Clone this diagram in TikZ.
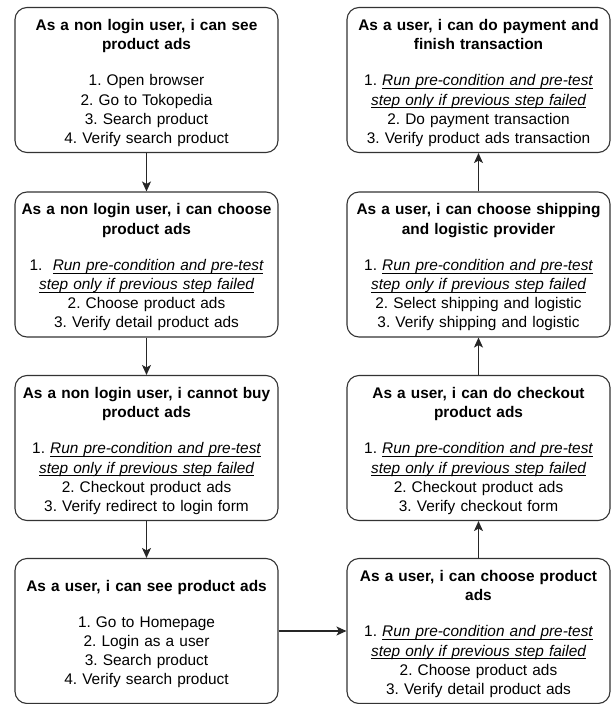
\documentclass[tikz,border=0pt]{standalone}
\usepackage{fontspec}
\setmainfont{Liberation Sans}
\usepackage{tikz}
\usetikzlibrary{arrows.meta}
\tikzset{
  story/.style={rectangle,rounded corners=12pt,draw=black!80,line width=1.1pt,
    minimum width=263pt,minimum height=145pt,inner sep=0pt,text width=258pt,
    align=center,font=\fontsize{15.4}{19.2}\selectfont\frenchspacing},
  flw/.style={-{Stealth[length=10pt,width=9pt,inset=2.5pt]},line width=1.1pt,draw=black!85},
}
% story title, bold, then a gap before the steps
\newcommand{\ttl}[1]{{\rule{0pt}{17pt}\bfseries #1}\\[17pt]}
% underline at a fixed depth, under the descenders
\newcommand{\undl}[1]{\leavevmode\setbox0\hbox{#1}%
  \rlap{\rule[-3pt]{\wd0}{0.8pt}}\box0}
% the step that every later story repeats
\newcommand{\rerun}[1][1. ]{#1\undl{\itshape Run pre-condition and pre-test}\\
  \undl{\itshape step only if previous step failed}}

\begin{document}
\begin{tikzpicture}[x=1pt,y=-1pt]
\useasboundingbox (0,0) rectangle (612,704);
\node[story] (L1) at (146.5,80)
  {\ttl{As a non login user, i can see\\ product ads}
   1. Open browser\\ 2. Go to Tokopedia\\ 3. Search product\\ 4. Verify search product};
\node[story] (L2) at (146.5,264.5)
  {\ttl{As a non login user, i can choose\\ product ads}
   \rerun[1.\ \ ]\\ 2. Choose product ads\\ 3. Verify detail product ads};
\node[story] (L3) at (146.5,448)
  {\ttl{As a non login user, i cannot buy\\ product ads}
   \rerun\\ 2. Checkout product ads\\ 3. Verify redirect to login form};
\node[story] (L4) at (146.5,631)
  {\ttl{As a user, i can see product ads}
   1. Go to Homepage\\ 2. Login as a user\\ 3. Search product\\ 4. Verify search product};
\node[story] (R4) at (478.5,631)
  {\ttl{As a user, i can choose product\\ ads}
   \rerun\\ 2. Choose product ads\\ 3. Verify detail product ads};
\node[story] (R3) at (478.5,448)
  {\ttl{As a user, i can do checkout\\ product ads}
   \rerun\\ 2. Checkout product ads\\ 3. Verify checkout form};
\node[story] (R2) at (478.5,264.5)
  {\ttl{As a user, i can choose shipping\\ and logistic provider}
   \rerun\\ 2. Select shipping and logistic\\ 3. Verify shipping and logistic};
\node[story] (R1) at (478.5,80)
  {\ttl{As a user, i can do payment and\\ finish transaction}
   \rerun\\ 2. Do payment transaction\\ 3. Verify product ads transaction};
\draw[flw] (L1)--(L2);
\draw[flw] (L2)--(L3);
\draw[flw] (L3)--(L4);
\draw[flw] (L4)--(R4);
\draw[flw] (R4)--(R3);
\draw[flw] (R3)--(R2);
\draw[flw] (R2)--(R1);
\end{tikzpicture}
\end{document}
